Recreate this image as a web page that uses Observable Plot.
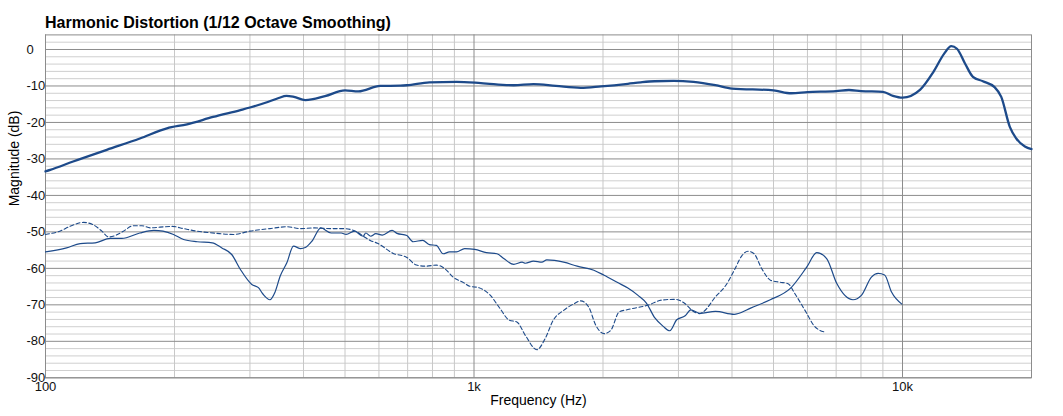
<!DOCTYPE html>
<html><head><meta charset="utf-8">
<script src="https://cdn.jsdelivr.net/npm/d3@7"></script>
<script src="https://cdn.jsdelivr.net/npm/@observablehq/plot@0.6"></script>
<style>
body{margin:0;background:#fff;}
#wrap{position:relative;width:1063px;height:416px;}
#title{position:absolute;left:45px;top:14px;font:bold 16px "Liberation Sans",Arial,sans-serif;color:#000;white-space:nowrap;z-index:2;}
#chart{position:absolute;left:0;top:0;}
</style></head><body>
<div id="wrap"><div id="title">Harmonic Distortion (1/12 Octave Smoothing)</div><div id="chart"></div></div>
<script>
// Fundamental
const fundFreq = [100,102.6,116,139,166,192,214,246,285,300,330,350,365,380,404,449,500,537,604,673,697,787,910,1038,1238,1377,1553,1774,1979,2286,2450,2637,2922,3253,3660,4000,5000,5500,6000,7000,7500,8000,9000,9500,10000,11000,11800,12500,13000,13400,14000,14600,15400,16400,17000,17800,18400,19300,20000];
const fundDb   = [-33.4,-33.0,-30.7,-27.5,-24.4,-21.6,-20.5,-18.5,-16.6,-15.9,-14.4,-13.3,-12.7,-13.0,-13.9,-12.8,-11.2,-11.5,-10.0,-9.9,-9.8,-9.0,-8.9,-9.2,-9.8,-9.5,-10.0,-10.5,-10.1,-9.4,-9.0,-8.7,-8.6,-8.9,-9.8,-10.7,-11.2,-12.0,-11.7,-11.4,-11.1,-11.4,-11.6,-12.7,-13.2,-11.0,-6.2,-1.2,0.9,0.2,-3.9,-7.5,-8.7,-10.3,-13.0,-21.2,-24.3,-26.6,-27.3];
// 2nd harmonic (solid)
const h2Freq = [100,112,120.5,130.6,141.6,150.7,166,179,188,199,210,226,245,258,272,285,303,314,322,334,343,353,366,379,394,404,419,439,464,490,503,526,551,559,574,590,611,644,661,697,721,759,787,817,847,877,910,951,1004,1069,1131,1173,1238,1295,1318,1377,1440,1479,1619,1741,1904,2012,2164,2286,2414,2525,2643,2764,2864,2972,3110,3207,3361,3660,4046,4157,4421,4914,5473,5981,6307,6653,7021,7664,8017,8462,8774,9083,9427,9965];
const h2Db   = [-55.5,-54.4,-53.2,-53.0,-51.8,-51.8,-50.3,-49.6,-49.8,-50.7,-52.1,-52.7,-53.0,-54.4,-56.2,-60.3,-64.4,-65.3,-67.1,-68.6,-66.6,-62.1,-58.4,-53.9,-54.6,-54.3,-52.5,-48.9,-50.3,-50.3,-50.7,-49.8,-51.2,-50.3,-51.2,-50.5,-50.9,-49.6,-50.4,-51.0,-52.7,-52.3,-53.5,-53.7,-56.0,-55.5,-55.5,-54.6,-54.8,-55.7,-56.0,-57.3,-58.9,-58.3,-58.6,-58.0,-58.3,-57.7,-58.3,-59.4,-60.5,-61.9,-63.9,-65.4,-67.4,-69.5,-73.6,-75.9,-77.1,-74.1,-73.0,-71.4,-72.3,-71.8,-72.6,-72.3,-70.9,-68.6,-65.5,-59.6,-55.7,-57.3,-64.1,-68.6,-67.4,-62.4,-61.4,-61.8,-66.5,-69.8];
// 3rd harmonic (dashed)
const h3Freq = [100,108,114,122.6,129,135.4,140.4,145.5,152,160.3,167.9,175.6,185,197.5,210,225.7,251,274.7,300,334,365.7,393.6,423.5,463.6,495.6,533,555,574,595,648,697,734,771,817,861,894,942,977,1027,1088,1150,1208,1259,1318,1402,1465,1531,1619,1711,1774,1852,1924,2012,2085,2183,2286,2414,2547,2738,2943,3110,3225,3361,3431,3660,3867,4046,4220,4358,4504,4694,4929,5183,5407,5606,5981,6213,6596];
const h3Db   = [-50.7,-49.8,-48.5,-47.4,-48.0,-49.8,-51.4,-51.0,-49.8,-48.3,-48.3,-48.9,-48.7,-48.5,-49.1,-49.8,-50.4,-50.7,-49.8,-49.1,-48.6,-49.1,-48.9,-49.1,-49.1,-50.0,-51.4,-52.4,-53.1,-55.9,-57.0,-59.1,-59.4,-59.1,-60.4,-62.4,-63.8,-64.9,-65.3,-67.2,-71.0,-74.2,-74.7,-78.4,-82.3,-79.3,-74.2,-71.5,-69.7,-68.9,-70.6,-75.6,-77.9,-77.0,-71.9,-71.3,-70.7,-70.1,-68.7,-68.5,-69.7,-71.5,-72.4,-71.9,-67.8,-64.7,-60.6,-56.5,-55.3,-56.0,-60.1,-63.3,-63.8,-64.2,-66.9,-72.4,-75.7,-77.5];

const xMajor = [100, 1000, 10000];
const xMinor = [200,300,400,500,600,700,800,900,2000,3000,4000,5000,6000,7000,8000,9000];
const xTickLabels = ["100", "1k", "10k"];
const yTicks = [0,-10,-20,-30,-40,-50,-60,-70,-80,-90];
const yMinor = [2,-2,-4,-6,-8,-12,-14,-16,-18,-22,-24,-26,-28,-32,-34,-36,-38,-42,-44,-46,-48,-52,-54,-56,-58,-62,-64,-66,-68,-72,-74,-76,-78,-82,-84,-86,-88];

const toRows = (fs, ds) => fs.map((f, i) => ({f, db: ds[i]}));
const fund = toRows(fundFreq, fundDb);
const h2 = toRows(h2Freq, h2Db);
const h3 = toRows(h3Freq, h3Db);

const color = "#1d4a8a";
const chart = Plot.plot({
  width: 1063,
  height: 416,
  marginLeft: 45,
  marginRight: 32,
  marginTop: 34.4,
  marginBottom: 38.7,
  style: {fontFamily: "'Liberation Sans', Arial, sans-serif", background: "#fff", color: "#111"},
  x: {type: "log", domain: [100, 20000]},
  y: {domain: [-90, 4]},
  marks: [
    Plot.ruleY(yMinor, {stroke: "#cfcfcf", strokeWidth: 1}),
    Plot.ruleX(xMinor, {stroke: "#c8c8c8", strokeWidth: 1}),
    Plot.ruleY(yTicks, {stroke: "#8c8c8c", strokeWidth: 1}),
    Plot.ruleX(xMajor, {stroke: "#8c8c8c", strokeWidth: 1}),
    Plot.frame({stroke: "#8c8c8c"}),
    Plot.line(h3, {x: "f", y: "db", stroke: color, strokeWidth: 1.1, strokeDasharray: "4,2.5", curve: "monotone-x"}),
    Plot.line(h2, {x: "f", y: "db", stroke: color, strokeWidth: 1.2, curve: "monotone-x"}),
    Plot.line(fund, {x: "f", y: "db", stroke: color, strokeWidth: 2.3, curve: "monotone-x"}),
    Plot.axisY(yTicks, {tickSize: 0, tickPadding: 0, textAnchor: "start", dx: -19, fontSize: 13, label: null, tickFormat: d => String(d)}),
    Plot.axisX(xMajor, {tickSize: 0, tickPadding: 4, fontSize: 13, label: null, tickFormat: d => xTickLabels[xMajor.indexOf(d)]}),
    Plot.text(["Magnitude (dB)"], {frameAnchor: "left", rotate: -90, dx: -31, fontSize: 14, fill: "#000"}),
    Plot.text(["Frequency (Hz)"], {frameAnchor: "bottom", dy: 27, fontSize: 14, fill: "#000"})
  ]
});
document.getElementById("chart").appendChild(chart);
</script>
</body></html>
